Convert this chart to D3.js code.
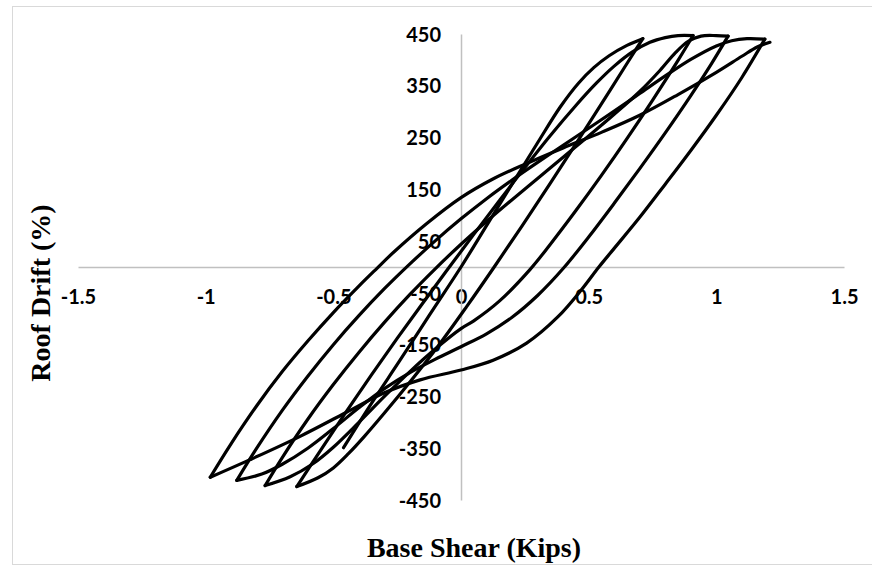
<!DOCTYPE html>
<html>
<head>
<meta charset="utf-8">
<script src="https://cdn.jsdelivr.net/npm/d3@7"></script>
<style>
  body { margin: 0; background: #fff; }
</style>
</head>
<body>
<div id="chart"></div>
<script>
// Tick labels
const xTicks = [-1.5, -1, -0.5, 0, 0.5, 1, 1.5];
const yTicks = [450, 350, 250, 150, 50, -50, -150, -250, -350, -450];

// Hysteresis path, one branch at a time: [base shear, roof drift]
const backbone = [[-0.46, -349], [-0.35, -263], [-0.24, -181], [-0.12, -90], [0, 0], [0.1, 80], [0.2, 160], [0.3, 240], [0.39, 310], [0.46, 355], [0.52, 385], [0.58, 408], [0.65, 428], [0.712, 441]];
const down1 = [[0.712, 441], [0.65, 393], [0.55, 315], [0.45, 238], [0.35, 162], [0.24, 80], [0.13, 0], [0.02, -78], [-0.09, -153], [-0.2, -222], [-0.3, -282], [-0.38, -328], [-0.44, -360], [-0.5, -388], [-0.56, -407], [-0.643, -424]];
const up1 = [[-0.643, -424], [-0.55, -354], [-0.45, -280], [-0.35, -208], [-0.25, -138], [-0.15, -70], [-0.05, -3], [0.05, 63], [0.15, 128], [0.25, 192], [0.35, 254], [0.45, 312], [0.53, 355], [0.6, 388], [0.67, 415], [0.74, 434], [0.8, 443], [0.85, 447], [0.909, 447]];
const down2 = [[0.909, 447], [0.85, 399], [0.75, 322], [0.65, 248], [0.55, 177], [0.45, 109], [0.35, 44], [0.27, -5], [0.15, -66], [0.05, -104], [0, -119], [-0.1, -158], [-0.2, -202], [-0.3, -250], [-0.4, -300], [-0.5, -348], [-0.58, -380], [-0.669, -405], [-0.767, -422]];
const up2 = [[-0.767, -422], [-0.7, -368], [-0.6, -294], [-0.5, -227], [-0.4, -165], [-0.3, -107], [-0.2, -53], [-0.1, -3], [0, 44], [0.1, 88], [0.2, 130], [0.3, 171], [0.4, 212], [0.5, 253], [0.6, 295], [0.7, 339], [0.78, 380], [0.84, 414], [0.89, 436], [0.94, 446], [1.0, 447], [1.046, 446]];
const down3 = [[1.046, 446], [0.98, 392], [0.9, 331], [0.8, 259], [0.7, 190], [0.6, 123], [0.5, 58], [0.4, -3], [0.3, -55], [0.2, -97], [0.1, -129], [0, -154], [-0.1, -178], [-0.2, -204], [-0.3, -235], [-0.4, -272], [-0.5, -312], [-0.6, -350], [-0.7, -381], [-0.78, -400], [-0.878, -412]];
const up3 = [[-0.878, -412], [-0.8, -350], [-0.7, -277], [-0.6, -211], [-0.5, -150], [-0.4, -94], [-0.3, -42], [-0.2, 6], [-0.1, 51], [0, 93], [0.1, 132], [0.2, 168], [0.3, 202], [0.4, 235], [0.5, 268], [0.6, 301], [0.7, 335], [0.8, 369], [0.9, 401], [1.0, 427], [1.06, 437], [1.12, 441], [1.19, 440]];
const down4 = [[1.19, 440], [1.1, 366], [1.0, 293], [0.9, 225], [0.8, 160], [0.7, 96], [0.6, 36], [0.54, 0], [0.47, -45], [0.38, -96], [0.257, -147], [0.126, -180], [0, -199], [-0.16, -218], [-0.3, -243], [-0.45, -281], [-0.63, -327], [-0.826, -372], [-0.982, -406]];
const up4 = [[-0.982, -406], [-0.9, -341], [-0.8, -268], [-0.7, -202], [-0.6, -143], [-0.5, -88], [-0.4, -37], [-0.33, -3], [-0.265, 28], [-0.134, 84], [0, 134], [0.125, 170], [0.257, 200], [0.4, 230], [0.55, 260], [0.7, 293], [0.85, 333], [1.0, 376], [1.1, 407], [1.16, 425], [1.21, 434]];

const branches = [backbone, down1, up1, down2, up2, down3, up3, down4, up4];

// Chart dimensions
const width = 872;
const height = 566;

const svg = d3.select('#chart').append('svg')
    .attr('width', width)
    .attr('height', height);

svg.append('rect')
    .attr('width', width)
    .attr('height', height)
    .attr('fill', '#fff');

// chart area border
svg.append('rect')
    .attr('x', 12.5)
    .attr('y', 6.5)
    .attr('width', 880)
    .attr('height', 558)
    .attr('fill', 'none')
    .attr('stroke', '#d9d9d9');

// Scales
const xScale = d3.scaleLinear()
    .domain([-1.5, 1.5])
    .range([78, 844]);

const yScale = d3.scaleLinear()
    .domain([-450, 450])
    .range([500, 34]);

// Axes crossing at zero, no tick marks
const xAxis = d3.axisBottom(xScale).tickValues(xTicks).tickSize(0).tickFormat(d => String(d));
const gx = svg.append('g')
    .attr('transform', `translate(0,${yScale(0)})`)
    .call(xAxis);
gx.select('.domain').attr('stroke', '#c0c0c0').attr('stroke-width', 1.5);
gx.selectAll('text')
    .attr('dy', null)
    .attr('y', 37)
    .style('font-family', 'Lato, sans-serif')
    .style('font-weight', 'bold')
    .style('font-size', '20px')
    .attr('fill', '#000');

const yAxis = d3.axisLeft(yScale).tickValues(yTicks).tickSize(0).tickFormat(d => String(d));
const gy = svg.append('g')
    .attr('transform', `translate(${xScale(0)},0)`)
    .call(yAxis);
gy.select('.domain').attr('stroke', '#c0c0c0').attr('stroke-width', 1.5);
gy.selectAll('text')
    .attr('x', -20)
    .attr('dy', '0.36em')
    .style('font-family', 'Lato, sans-serif')
    .style('font-weight', 'bold')
    .style('font-size', '20px')
    .attr('fill', '#000');

// Curves
const line = d3.line()
    .x(d => xScale(d[0]))
    .y(d => yScale(d[1]))
    .curve(d3.curveCatmullRom.alpha(0.5));

svg.append('g')
    .selectAll('path')
    .data(branches)
    .enter().append('path')
    .attr('d', line)
    .attr('fill', 'none')
    .attr('stroke', '#000')
    .attr('stroke-width', 3.2)
    .attr('stroke-linejoin', 'round')
    .attr('stroke-linecap', 'round');

// Axis titles
svg.append('text')
    .attr('x', 474)
    .attr('y', 557)
    .attr('text-anchor', 'middle')
    .style('font-family', '"Liberation Serif", "Times New Roman", serif')
    .style('font-weight', 'bold')
    .style('font-size', '28px')
    .text('Base Shear (Kips)');

svg.append('text')
    .attr('transform', 'translate(50,293) rotate(-90)')
    .attr('text-anchor', 'middle')
    .style('font-family', '"Liberation Serif", "Times New Roman", serif')
    .style('font-weight', 'bold')
    .style('font-size', '28px')
    .text('Roof Drift (%)');
</script>
</body>
</html>
